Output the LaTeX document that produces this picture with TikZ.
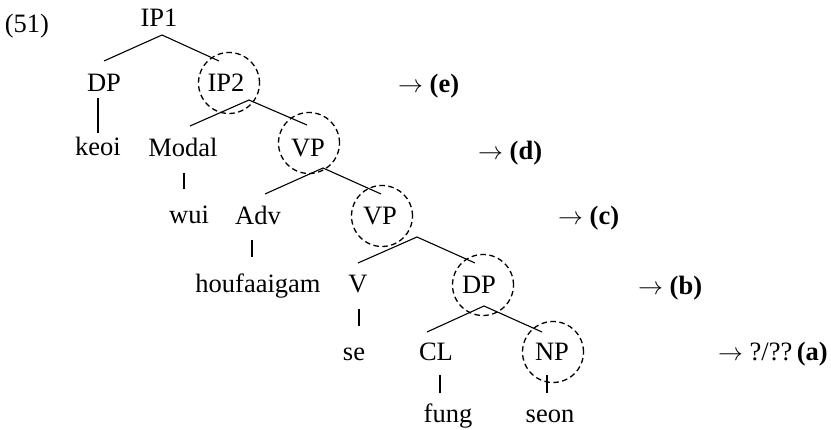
\documentclass[tikz,border=0pt]{standalone}
\usepackage{fontspec}
\setmainfont{Liberation Serif}
\begin{document}
\begin{tikzpicture}[x=1pt,y=-1pt,
  lab/.style={anchor=base,inner sep=0pt,font=\fontsize{26.5}{31}\selectfont},
  arr/.style={lab,anchor=base west},
  br/.style={line width=1.1pt},
  term/.style={line width=1.4pt},
  ring/.style={draw,dash pattern=on 5.5pt off 3.5pt,line width=1.3pt,circle,minimum size=61pt,inner sep=0pt},
]
\useasboundingbox (0,0) rectangle (831,430);
% labels
\node[lab] (ex) at (27,33) {(51)};
\node[lab] (ip1) at (159,27) {IP1};
\node[lab] (dp1) at (104,92) {DP};
\node[lab] (ip2) at (226,92) {IP2};
\node[lab] (keoi) at (98,156) {keoi};
\node[lab] (modal) at (183,157) {Modal};
\node[lab] (vp1) at (308,157) {VP};
\node[lab] (wui) at (189,224) {wui};
\node[lab] (adv) at (258,225) {Adv};
\node[lab] (vp2) at (380,225) {VP};
\node[lab] (hou) at (258,293) {houfaaigam};
\node[lab] (v) at (358,293) {V};
\node[lab] (dp2) at (479,294) {DP};
\node[lab] (se) at (354,361) {se};
\node[lab] (cl) at (436,361) {CL};
\node[lab] (np) at (552,361) {NP};
\node[lab] (fung) at (448,423) {fung};
\node[lab] (seon) at (550,423) {seon};
% arrows
\node[arr] (ae) at (398,93) {$\rightarrow$ \textbf{(e)}};
\node[arr] (ad) at (478,160) {$\rightarrow$ \textbf{(d)}};
\node[arr] (ac) at (558,225) {$\rightarrow$ \textbf{(c)}};
\node[arr] (ab) at (638,295) {$\rightarrow$ \textbf{(b)}};
\node[arr] (aa) at (718,361) {$\rightarrow$ ?/??\,\textbf{(a)}};
% circles
\node[ring] (cip2) at (229,83) {};
\node[ring] (cvp1) at (309,143) {};
\node[ring] (cvp2) at (382,216) {};
\node[ring] (cdp2) at (483,285) {};
\node[ring] (cnp) at (553,352) {};
% branch points
\coordinate (t1) at (162,35); \coordinate (t1l) at (104,61); \coordinate (t1r) at (219,61);
\coordinate (t2) at (249,100); \coordinate (t2l) at (190,126); \coordinate (t2r) at (307,125);
\coordinate (t3) at (323,168); \coordinate (t3l) at (265,194); \coordinate (t3r) at (381,194);
\coordinate (t4) at (417,237); \coordinate (t4l) at (358,263); \coordinate (t4r) at (475,263);
\coordinate (t5) at (484,306); \coordinate (t5l) at (427,332); \coordinate (t5r) at (542,332);
\draw[br] (t1l) -- (t1) -- (t1r);
\draw[br] (t2l) -- (t2) -- (t2r);
\draw[br] (t3l) -- (t3) -- (t3r);
\draw[br] (t4l) -- (t4) -- (t4r);
\draw[br] (t5l) -- (t5) -- (t5r);
% terminal lines
\coordinate (k1) at (98,98); \coordinate (k2) at (98,133);
\coordinate (m1) at (184,173); \coordinate (m2) at (184,189);
\coordinate (a1) at (252,240); \coordinate (a2) at (252,257);
\coordinate (v1) at (359,309); \coordinate (v2) at (359,326);
\coordinate (c1) at (440,375); \coordinate (c2) at (440,393);
\coordinate (n1) at (547,375); \coordinate (n2) at (547,393);
\draw[line width=2pt] (k1) -- (k2);
\draw[term] (m1) -- (m2);
\draw[term] (a1) -- (a2);
\draw[term] (v1) -- (v2);
\draw[term] (c1) -- (c2);
\draw[term] (n1) -- (n2);
\end{tikzpicture}
\end{document}
